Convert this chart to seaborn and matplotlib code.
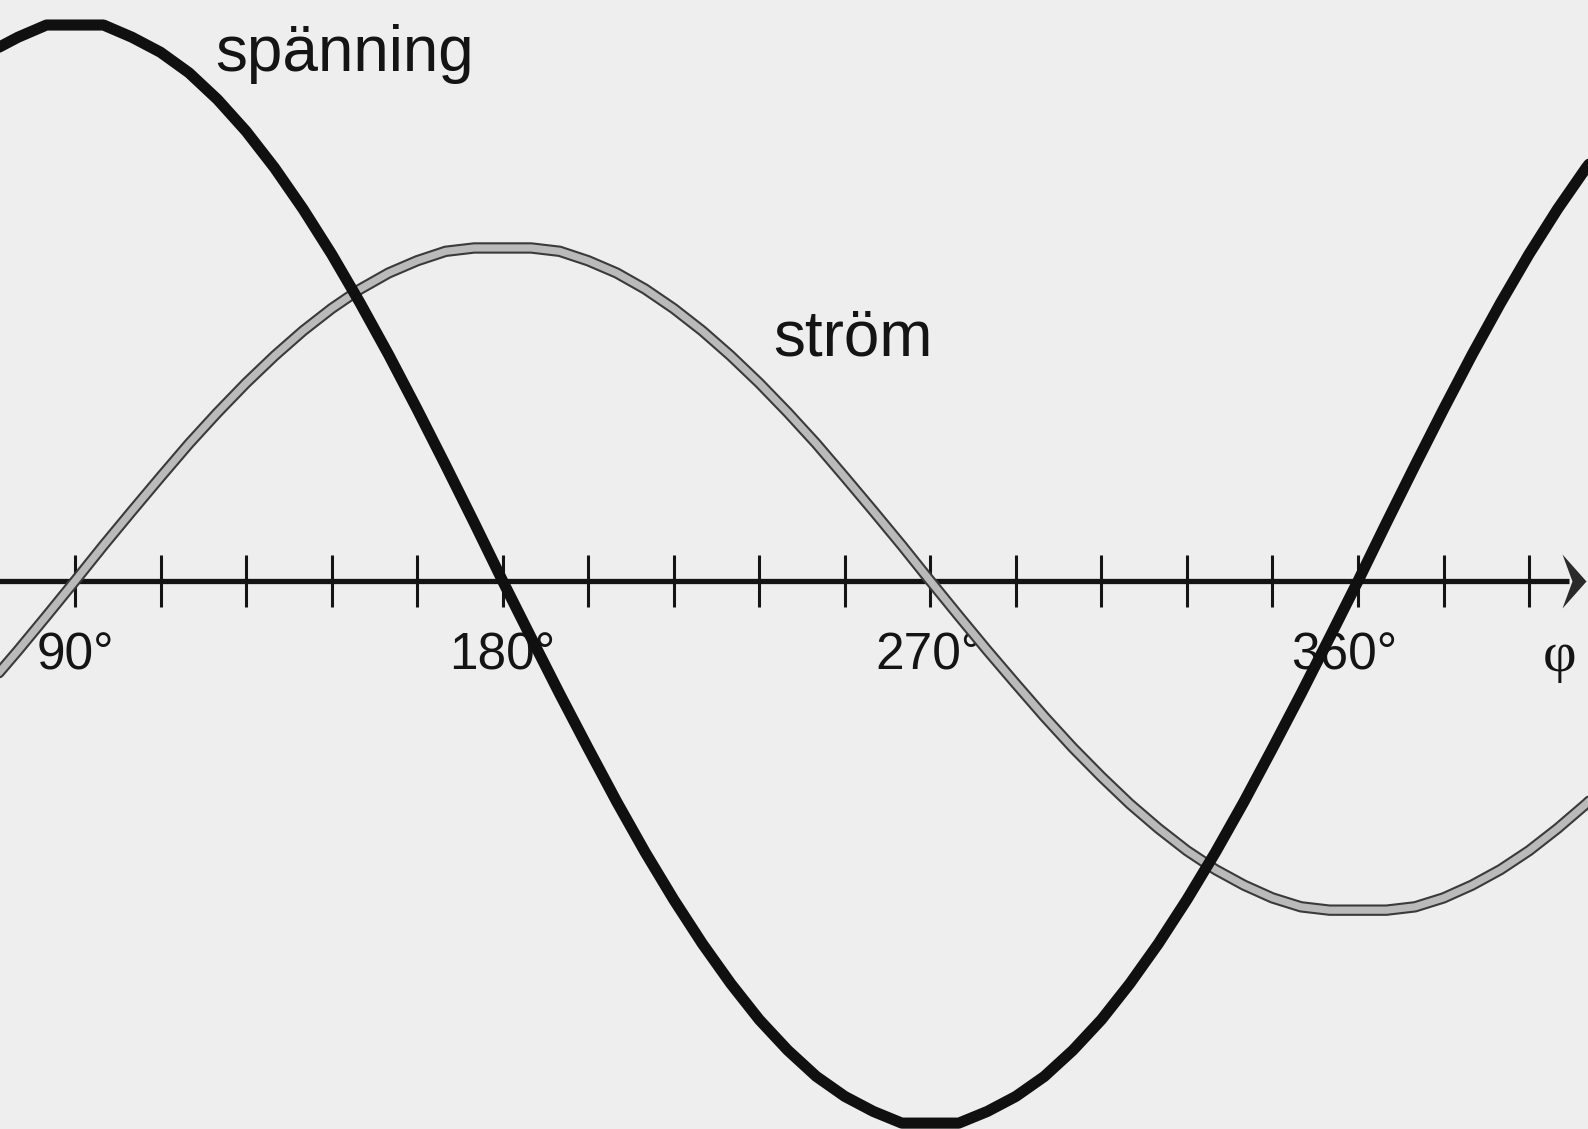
import matplotlib
matplotlib.use("Agg")
import matplotlib.pyplot as plt
import matplotlib.patheffects as pe
from matplotlib.path import Path
import pandas as pd
import seaborn as sns

# Phase angle φ in degrees
phi_deg = [72, 78, 84, 90, 96, 102, 108, 114, 120, 126, 132, 138, 144, 150, 156,
           162, 168, 174, 180, 186, 192, 198, 204, 210, 216, 222, 228, 234, 240, 246,
           252, 258, 264, 270, 276, 282, 288, 294, 300, 306, 312, 318, 324, 330, 336,
           342, 348, 354, 360, 366, 372, 378, 384, 390, 396, 402, 408, 414, 420]

# voltage (spänning), peak = 1
voltage_val = [0.951, 0.978, 1.0, 1.0, 1.0, 0.978, 0.951, 0.914, 0.866, 0.809, 0.743, 0.669, 0.588, 0.5, 0.407,
               0.309, 0.208, 0.105, 0.0, -0.102, -0.203, -0.301, -0.397, -0.488, -0.573, -0.652, -0.724, -0.789, -0.844, -0.891,
               -0.927, -0.954, -0.975, -0.975, -0.975, -0.954, -0.927, -0.891, -0.844, -0.789, -0.724, -0.652, -0.573, -0.488, -0.397,
               -0.301, -0.203, -0.102, 0.0, 0.105, 0.208, 0.309, 0.407, 0.5, 0.588, 0.669, 0.743, 0.809, 0.866]

# current (ström), lagging the voltage by 90°
current_val = [-0.185, -0.125, -0.063, 0.0, 0.064, 0.126, 0.187, 0.247, 0.303, 0.356, 0.405, 0.450, 0.490, 0.525, 0.554,
               0.576, 0.593, 0.599, 0.599, 0.599, 0.593, 0.576, 0.554, 0.525, 0.490, 0.450, 0.405, 0.356, 0.303, 0.247,
               0.187, 0.126, 0.064, 0.0, -0.063, -0.125, -0.185, -0.244, -0.300, -0.352, -0.401, -0.445, -0.485, -0.519, -0.547,
               -0.570, -0.586, -0.592, -0.592, -0.592, -0.586, -0.570, -0.547, -0.519, -0.485, -0.445, -0.401, -0.352, -0.300]

tick_deg = [90, 108, 126, 144, 162, 180, 198, 216, 234, 252,
            270, 288, 306, 324, 342, 360, 378, 396]
label_deg = [90, 180, 270, 360]
label_text = ["90°", "180°", "270°", "360°"]

sns.set_theme(style="white")
plt.rcParams["font.family"] = ["Liberation Sans", "DejaVu Sans"]

BG = "#eeeeee"
INK = "#141414"

fig = plt.figure(figsize=(15.88, 11.29), dpi=100)
fig.patch.set_facecolor(BG)
ax = fig.add_axes([0, 0, 1, 1])
ax.set_facecolor(BG)
x_min, x_max = 74.22, 408.40
y_min, y_max = -0.9856, 1.045

# horizontal φ axis with tick marks and arrow head
axis_end = x_max - 4.0
ax.hlines(0, x_min - 5, axis_end, color=INK, lw=3.8, zorder=1)
ax.vlines(tick_deg, -0.046, 0.046, color=INK, lw=2.2, zorder=1)
arrow = Path([(0, 0), (-24, 27), (-14, 0), (-24, -27), (0, 0)],
             [Path.MOVETO, Path.LINETO, Path.LINETO, Path.LINETO, Path.CLOSEPOLY])
ax.plot([x_max - 0.5], [0], marker=arrow, ms=38.9, color="#2a2a2a", mew=0,
        linestyle="none", zorder=1)

# current (gray with dark rim) and voltage (black)
df = pd.DataFrame({"phi": phi_deg, "u": voltage_val, "i": current_val})
sns.lineplot(data=df, x="phi", y="i", ax=ax, sort=False, estimator=None,
             color="#bababa", linewidth=5.2, zorder=3, solid_joinstyle="round",
             path_effects=[pe.Stroke(linewidth=8.2, foreground="#3a3a3a"), pe.Normal()])
sns.lineplot(data=df, x="phi", y="u", ax=ax, sort=False, estimator=None,
             color="#101010", linewidth=8.0, zorder=4, solid_joinstyle="round")
ax.set_xlim(x_min, x_max)
ax.set_ylim(y_min, y_max)
ax.axis("off")

# curve names
ax.text(119.5, 0.917, "spänning", fontsize=46, color=INK, ha="left", va="baseline", zorder=5)
ax.text(236.9, 0.406, "ström", fontsize=46, color=INK, ha="left", va="baseline", zorder=5)

# degree labels under the axis
label_shift = [0, 0, -0.4, -3.0]
for d, t, s in zip(label_deg, label_text, label_shift):
    ax.text(d + s, -0.160, t, fontsize=37, color=INK, ha="center", va="baseline", zorder=2)
ax.text(402.5, -0.162, "φ", fontsize=42, color=INK, ha="center", va="baseline",
        family=["Liberation Serif", "DejaVu Serif"], zorder=2)

fig.savefig("out.png", dpi=100, facecolor=BG)
